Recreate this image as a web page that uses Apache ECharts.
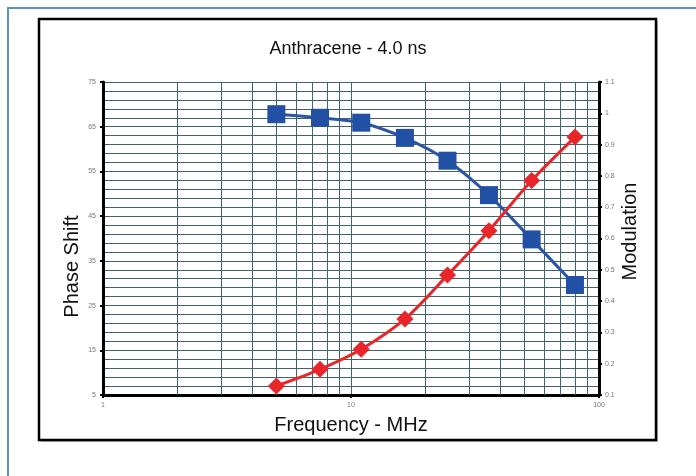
<!DOCTYPE html>
<html>
<head>
<meta charset="utf-8">
<script src="https://cdn.jsdelivr.net/npm/echarts@6/dist/echarts.min.js"></script>
<style>
html,body{margin:0;padding:0;background:#fff;}
#chart{width:696px;height:476px;}
</style>
</head>
<body>
<div id="chart"></div>
<script>
// ---- data ----
var frequencies = [5, 7.5, 11, 16.5, 24.5, 36, 53.5, 80];
var phaseShift = [67.8, 67.0, 65.9, 62.5, 57.4, 49.7, 39.8, 29.6];
var modulation = [0.129, 0.182, 0.246, 0.343, 0.483, 0.625, 0.785, 0.924];
var minorFreqLines = [2, 3, 4, 5, 6, 7, 8, 9, 20, 30, 40, 50, 60, 70, 80, 90];
var titleText = 'Anthracene - 4.0 ns';
var xName = 'Frequency - MHz';
var yLeftName = 'Phase Shift';
var yRightName = 'Modulation';

var phaseData = frequencies.map(function (f, i) { return [f, phaseShift[i]]; });
var modData = frequencies.map(function (f, i) { return [f, modulation[i]]; });

var gridColor = '#42626a';
var FONT = '"Liberation Sans", Arial, sans-serif';

var chart = echarts.init(document.getElementById('chart'), null, {renderer: 'canvas'});
chart.setOption({
  animation: false,
  backgroundColor: '#ffffff',
  graphic: [
    {type: 'rect', shape: {x: 8, y: 8, width: 720, height: 500}, style: {fill: 'none', stroke: '#5b8fd3', lineWidth: 2}, z: 0},
    {type: 'rect', shape: {x: 41, y: 21, width: 617, height: 421}, style: {fill: '#bbb', stroke: null}, z: 0},
    {type: 'rect', shape: {x: 39, y: 19, width: 617, height: 421}, style: {fill: '#fff', stroke: '#000', lineWidth: 2.5}, z: 0}
  ],
  title: {
    text: titleText,
    left: 'center',
    top: 35,
    textStyle: {fontFamily: FONT, fontSize: 18, fontWeight: 'normal', color: '#111'}
  },
  grid: {
    left: 103, right: 97, top: 82, bottom: 81,
    show: true, backgroundColor: '#d2eaf0', borderColor: '#222', borderWidth: 1
  },
  xAxis: {
    type: 'log', logBase: 10, min: 1, max: 100,
    name: xName, nameLocation: 'middle', nameGap: 20, nameMoveOverlap: false,
    nameTextStyle: {fontFamily: FONT, fontSize: 20, color: '#111'},
    axisLine: {show: true, onZero: false, lineStyle: {color: '#000', width: 3}},
    axisTick: {show: true, length: 3, lineStyle: {color: '#000', width: 2}},
    axisLabel: {fontFamily: FONT, fontSize: 7, color: '#777', margin: 7},
    splitLine: {show: true, lineStyle: {color: gridColor, width: 1}}
  },
  yAxis: [
    {
      type: 'value', min: 5, max: 75, interval: 10,
      name: yLeftName, nameLocation: 'middle', nameGap: 21, nameMoveOverlap: false,
      nameTextStyle: {fontFamily: FONT, fontSize: 20, color: '#111', padding: [0, 56, 0, 0]},
      axisLine: {show: true, lineStyle: {color: '#000', width: 3}},
      axisTick: {show: true, length: 3, lineStyle: {color: '#000', width: 2}},
      axisLabel: {fontFamily: FONT, fontSize: 7, color: '#777', margin: 7},
      splitLine: {show: true, lineStyle: {color: gridColor, width: 1}},
      minorTick: {show: false, splitNumber: 5},
      minorSplitLine: {show: true, lineStyle: {color: gridColor, width: 1}}
    },
    {
      type: 'value', min: 0.1, max: 1.1, interval: 0.1, position: 'right',
      name: yRightName, nameLocation: 'middle', nameGap: 21, nameMoveOverlap: false,
      nameTextStyle: {fontFamily: FONT, fontSize: 20, color: '#111', padding: [0, 0, 0, 14]},
      axisLine: {show: true, lineStyle: {color: '#000', width: 3}},
      axisTick: {show: true, length: 3, lineStyle: {color: '#000', width: 2}},
      axisLabel: {fontFamily: FONT, fontSize: 7, color: '#777', margin: 6,
        formatter: function (v) { return String(+v.toFixed(1)); }},
      splitLine: {show: false}
    }
  ],
  series: [
    {
      type: 'line', data: [], silent: true,
      markLine: {
        silent: true, symbol: 'none', label: {show: false},
        lineStyle: {color: gridColor, width: 1, type: 'solid'},
        data: minorFreqLines.map(function (v) { return {xAxis: v}; })
      },
      z: 1
    },
    {
      name: yLeftName, type: 'line', yAxisIndex: 0, data: phaseData,
      smooth: 0.3, symbol: 'rect', symbolSize: 18,
      lineStyle: {color: '#2c56a5', width: 3},
      itemStyle: {color: '#2150a4'},
      z: 5
    },
    {
      name: yRightName, type: 'line', yAxisIndex: 1, data: modData,
      smooth: 0.3, symbol: 'diamond', symbolSize: 17,
      lineStyle: {color: '#e8262a', width: 3},
      itemStyle: {color: '#e8262a'},
      z: 6
    }
  ]
});
</script>
</body>
</html>
